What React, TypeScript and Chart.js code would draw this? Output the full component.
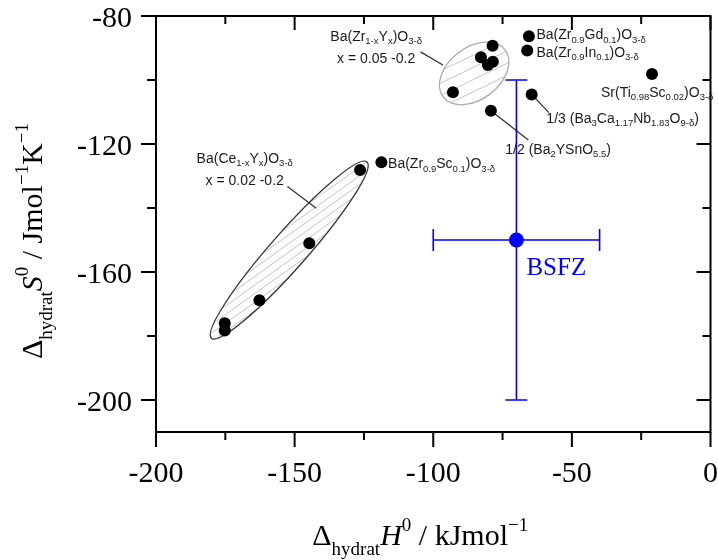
import React, { useEffect, useRef } from "react";
import { Chart, registerables } from "chart.js";
Chart.register(...registerables);

// ---------------- data ----------------
const ceY_H = [-126.4, -144.7, -162.7, -175.2, -175.2];
const ceY_S = [-128.1, -151.0, -168.8, -176.0, -178.3];
const zrY_H = [-78.6, -82.8, -78.5, -80.3, -92.9];
const zrY_S = [-89.3, -92.9, -94.3, -95.3, -103.8];
const other_H = [-65.5, -66.1, -21.1, -64.5, -79.2, -118.7];
const other_S = [-86.3, -90.8, -98.1, -104.5, -109.6, -125.7];
const bsfz_H = [-70];
const bsfz_S = [-150];
const bsfz_Herr = [30];
const bsfz_Serr = [50];

const xMajorTicks = [-200, -150, -100, -50, 0];
const xMinorTicks = [-175, -125, -75, -25];
const yMajorTicks = [-200, -160, -120, -80];
const yMinorTicks = [-180, -140, -100];

const xTitle = "Δ_{hydrat}*H*^{0} / kJmol^{−1}";
const yTitle = "Δ_{hydrat}*S*^{0} / Jmol^{−1}K^{−1}";

// label texts with anchor (data units)
const labelTexts = [
  "Ba(Zr_{1-x}Y_{x})O_{3-δ}",
  "x = 0.05 -0.2",
  "Ba(Zr_{0.9}Gd_{0.1})O_{3-δ}",
  "Ba(Zr_{0.9}In_{0.1})O_{3-δ}",
  "Sr(Ti_{0.98}Sc_{0.02})O_{3-δ}",
  "1/3 (Ba_{3}Ca_{1.17}Nb_{1.83}O_{9-δ})",
  "1/2 (Ba_{2}YSnO_{5.5})",
  "Ba(Zr_{0.9}Sc_{0.1})O_{3-δ}",
  "Ba(Ce_{1-x}Y_{x})O_{3-δ}",
  "x = 0.02 -0.2",
];
const labelX = [-120.6, -120.6, -62.8, -62.8, -39.5, -59.2, -74.0, -116.3, -168.0, -168.0];
const labelY = [-87.8, -94.7, -87.3, -92.7, -105.2, -113.4, -123.1, -127.6, -125.8, -132.8];
const labelAlign = ["center", "center", "left", "left", "left", "left", "left", "left", "center", "center"];

// leader lines (data units)
const leaderX1 = [-104.6, -64.5, -79.2, -152.6];
const leaderY1 = [-91.2, -104.5, -109.6, -133.3];
const leaderX2 = [-96.5, -58.3, -65.7, -142.2];
const leaderY2 = [-95.3, -110.2, -118.75, -140.1];

// hatched ellipses: major-axis end points (data units)
const ellX1 = [-180.0, -96.4];
const ellY1 = [-180.7, -105.3];
const ellX2 = [-123.9, -74.1];
const ellY2 = [-125.6, -90.6];

type Seg = { t: string; k: "n" | "sub" | "sup"; it: boolean };

function parseRich(s: string): Seg[] {
  const out: Seg[] = [];
  let buf = "";
  let it = false;
  let i = 0;
  const flush = () => {
    if (buf) out.push({ t: buf, k: "n", it });
    buf = "";
  };
  while (i < s.length) {
    const c = s[i];
    if ((c === "_" || c === "^") && s[i + 1] === "{") {
      flush();
      const end = s.indexOf("}", i + 2);
      out.push({ t: s.slice(i + 2, end), k: c === "_" ? "sub" : "sup", it: false });
      i = end + 1;
      continue;
    }
    if (c === "*") {
      flush();
      it = !it;
      i++;
      continue;
    }
    buf += c;
    i++;
  }
  flush();
  return out;
}

type RichStyle = { family: string; size: number; sub: number; subDy: number; supDy: number; color: string };

function drawRich(ctx: CanvasRenderingContext2D, s: string, x: number, y: number, align: string, st: RichStyle) {
  const segs = parseRich(s);
  const fontOf = (g: Seg) => `${g.it ? "italic " : ""}${g.k === "n" ? st.size : st.sub}px ${st.family}`;
  let total = 0;
  const widths = segs.map((g) => {
    ctx.font = fontOf(g);
    const w = ctx.measureText(g.t).width;
    total += w;
    return w;
  });
  let cx = align === "center" ? x - total / 2 : align === "right" ? x - total : x;
  ctx.fillStyle = st.color;
  ctx.textAlign = "left";
  ctx.textBaseline = "alphabetic";
  segs.forEach((g, i) => {
    ctx.font = fontOf(g);
    const dy = g.k === "sub" ? st.subDy : g.k === "sup" ? -st.supDy : 0;
    ctx.fillText(g.t, cx, y + dy);
    cx += widths[i];
  });
}

const serif = '"Liberation Serif", "Times New Roman", serif';
const sans = '"Liberation Sans", Arial, sans-serif';

const decorPlugin = {
  id: "decor",
  beforeDatasetsDraw(chart: any) {
    const ctx: CanvasRenderingContext2D = chart.ctx;
    const xs = chart.scales.x;
    const ys = chart.scales.y;
    ctx.save();
    // ellipses
    const halfW = [18, 26];
    const hatchSpacing = [7, 11];
    const hatchAngle = [-0.62, -0.45];
    const strokeCol = ["#333333", "#aaaaaa"];
    for (let e = 0; e < ellX1.length; e++) {
      const p1x = xs.getPixelForValue(ellX1[e]);
      const p1y = ys.getPixelForValue(ellY1[e]);
      const p2x = xs.getPixelForValue(ellX2[e]);
      const p2y = ys.getPixelForValue(ellY2[e]);
      const cx = (p1x + p2x) / 2;
      const cy = (p1y + p2y) / 2;
      const a = Math.hypot(p2x - p1x, p2y - p1y) / 2;
      const ang = Math.atan2(p2y - p1y, p2x - p1x);
      ctx.save();
      ctx.beginPath();
      ctx.ellipse(cx, cy, a, halfW[e], ang, 0, Math.PI * 2);
      ctx.fillStyle = "#ffffff";
      ctx.fill();
      ctx.clip();
      ctx.strokeStyle = "#c4c4c4";
      ctx.lineWidth = 1;
      const ha = hatchAngle[e];
      const dx = Math.cos(ha), dy = Math.sin(ha);
      const nx = -dy, ny = dx;
      for (let k = -a; k <= a; k += hatchSpacing[e]) {
        const ox = cx + nx * k, oy = cy + ny * k;
        ctx.beginPath();
        ctx.moveTo(ox - dx * a * 1.5, oy - dy * a * 1.5);
        ctx.lineTo(ox + dx * a * 1.5, oy + dy * a * 1.5);
        ctx.stroke();
      }
      ctx.restore();
      ctx.beginPath();
      ctx.ellipse(cx, cy, a, halfW[e], ang, 0, Math.PI * 2);
      ctx.strokeStyle = strokeCol[e];
      ctx.lineWidth = 1.3;
      ctx.stroke();
    }
    // leader lines
    ctx.strokeStyle = "#333333";
    ctx.lineWidth = 1.3;
    for (let i = 0; i < leaderX1.length; i++) {
      ctx.beginPath();
      ctx.moveTo(xs.getPixelForValue(leaderX1[i]), ys.getPixelForValue(leaderY1[i]));
      ctx.lineTo(xs.getPixelForValue(leaderX2[i]), ys.getPixelForValue(leaderY2[i]));
      ctx.stroke();
    }
    // error bars
    ctx.strokeStyle = "#0000ff";
    ctx.lineWidth = 1.6;
    for (let i = 0; i < bsfz_H.length; i++) {
      const x0 = xs.getPixelForValue(bsfz_H[i] - bsfz_Herr[i]);
      const x1 = xs.getPixelForValue(bsfz_H[i] + bsfz_Herr[i]);
      const yc = ys.getPixelForValue(bsfz_S[i]);
      const xc = xs.getPixelForValue(bsfz_H[i]);
      const y0 = ys.getPixelForValue(bsfz_S[i] + bsfz_Serr[i]);
      const y1 = ys.getPixelForValue(bsfz_S[i] - bsfz_Serr[i]);
      const cap = 11;
      ctx.beginPath();
      ctx.moveTo(x0, yc); ctx.lineTo(x1, yc);
      ctx.moveTo(x0, yc - cap); ctx.lineTo(x0, yc + cap);
      ctx.moveTo(x1, yc - cap); ctx.lineTo(x1, yc + cap);
      ctx.moveTo(xc, y0); ctx.lineTo(xc, y1);
      ctx.moveTo(xc - cap, y0); ctx.lineTo(xc + cap, y0);
      ctx.moveTo(xc - cap, y1); ctx.lineTo(xc + cap, y1);
      ctx.stroke();
    }
    ctx.restore();
  },
  afterDatasetsDraw(chart: any) {
    const ctx: CanvasRenderingContext2D = chart.ctx;
    const xs = chart.scales.x;
    const ys = chart.scales.y;
    const { left, right, top, bottom } = chart.chartArea;
    ctx.save();
    // labels
    const labStyle: RichStyle = { family: sans, size: 14, sub: 9.5, subDy: 3.5, supDy: 5, color: "#1a1a1a" };
    for (let i = 0; i < labelTexts.length; i++) {
      drawRich(ctx, labelTexts[i], xs.getPixelForValue(labelX[i]), ys.getPixelForValue(labelY[i]), labelAlign[i], labStyle);
    }
    // BSFZ label
    ctx.font = `25px ${serif}`;
    ctx.fillStyle = "#0000ff";
    ctx.textAlign = "left";
    ctx.textBaseline = "alphabetic";
    ctx.fillText("BSFZ", xs.getPixelForValue(bsfz_H[0]) + 10, ys.getPixelForValue(bsfz_S[0]) + 35);

    // frame
    ctx.strokeStyle = "#000";
    ctx.lineWidth = 2;
    ctx.strokeRect(left, top, right - left, bottom - top);
    ctx.lineWidth = 2;
    ctx.beginPath();
    const major = 15, minor = 8;
    xMajorTicks.forEach((v) => {
      const p = xs.getPixelForValue(v);
      ctx.moveTo(p, bottom); ctx.lineTo(p, bottom + major);
      ctx.moveTo(p, top); ctx.lineTo(p, top + major - 1);
    });
    xMinorTicks.forEach((v) => {
      const p = xs.getPixelForValue(v);
      ctx.moveTo(p, bottom); ctx.lineTo(p, bottom + minor);
      ctx.moveTo(p, top); ctx.lineTo(p, top + minor);
    });
    yMajorTicks.forEach((v) => {
      const p = ys.getPixelForValue(v);
      ctx.moveTo(left, p); ctx.lineTo(left - major, p);
      ctx.moveTo(right, p); ctx.lineTo(right - major + 1, p);
    });
    yMinorTicks.forEach((v) => {
      const p = ys.getPixelForValue(v);
      ctx.moveTo(left, p); ctx.lineTo(left - 9, p);
      ctx.moveTo(right, p); ctx.lineTo(right - minor, p);
    });
    ctx.stroke();

    // tick labels
    ctx.font = `30px ${serif}`;
    ctx.fillStyle = "#000";
    ctx.textBaseline = "alphabetic";
    ctx.textAlign = "center";
    xMajorTicks.forEach((v) => {
      ctx.fillText(String(v), xs.getPixelForValue(v), bottom + 50);
    });
    ctx.textAlign = "right";
    yMajorTicks.forEach((v) => {
      ctx.fillText(String(v), left - 24, ys.getPixelForValue(v) + 10.5);
    });

    // axis titles
    const titleStyle: RichStyle = { family: serif, size: 30, sub: 19, subDy: 10, supDy: 14, color: "#000" };
    drawRich(ctx, xTitle, (left + right) / 2 - 13, bottom + 113, "center", titleStyle);
    ctx.save();
    ctx.translate(left - 114, (top + bottom) / 2 + 17);
    ctx.rotate(-Math.PI / 2);
    drawRich(ctx, yTitle, 0, 0, "center", titleStyle);
    ctx.restore();

    ctx.restore();
  },
};

export default function App() {
  const ref = useRef<HTMLCanvasElement | null>(null);
  useEffect(() => {
    if (!ref.current) return;
    const pts = (hs: number[], ss: number[]) => hs.map((h, i) => ({ x: h, y: ss[i] }));
    const chart = new Chart(ref.current, {
      type: "scatter",
      data: {
        datasets: [
          { label: "Ba(Ce1-xYx)O3-δ", data: pts(ceY_H, ceY_S), backgroundColor: "#000", borderColor: "#000", pointRadius: 6, pointBorderWidth: 0 },
          { label: "Ba(Zr1-xYx)O3-δ", data: pts(zrY_H, zrY_S), backgroundColor: "#000", borderColor: "#000", pointRadius: 6, pointBorderWidth: 0 },
          { label: "others", data: pts(other_H, other_S), backgroundColor: "#000", borderColor: "#000", pointRadius: 6, pointBorderWidth: 0 },
          { label: "BSFZ", data: pts(bsfz_H, bsfz_S), backgroundColor: "#0000ff", borderColor: "#0000ff", pointRadius: 7.5, pointBorderWidth: 0 },
        ],
      },
      options: {
        responsive: false,
        animation: false,
        layout: { padding: { left: 156, top: 16, right: 5, bottom: 128 } },
        plugins: { legend: { display: false }, tooltip: { enabled: false } },
        scales: {
          x: { type: "linear", min: -200, max: 0, display: false },
          y: { type: "linear", min: -210, max: -80, display: false },
        },
      },
      plugins: [decorPlugin],
    });
    return () => chart.destroy();
  }, []);
  return (
    <div style={{ position: "absolute", left: 0, top: 0, width: 718, height: 560, background: "#fff" }}>
      <canvas ref={ref} width={718} height={560} style={{ width: 718, height: 560, display: "block" }} />
    </div>
  );
}
